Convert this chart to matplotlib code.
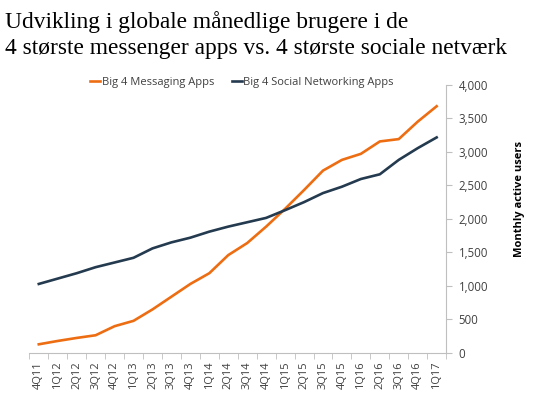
import matplotlib.pyplot as plt
import numpy as np

quarters = ["4Q11", "1Q12", "2Q12", "3Q12", "4Q12", "1Q13", "2Q13", "3Q13", "4Q13",
            "1Q14", "2Q14", "3Q14", "4Q14", "1Q15", "2Q15", "3Q15", "4Q15",
            "1Q16", "2Q16", "3Q16", "4Q16", "1Q17"]
messaging = [130, 180, 225, 265, 400, 480, 650, 840, 1030, 1190, 1460, 1640,
             1885, 2150, 2430, 2720, 2880, 2970, 3155, 3190, 3450, 3680]
social = [1030, 1110, 1190, 1280, 1350, 1420, 1560, 1650, 1720, 1810, 1885, 1950,
          2015, 2130, 2250, 2385, 2480, 2595, 2665, 2880, 3055, 3215]

orange = "#ed6d12"
navy = "#243a4f"
grey = "#bfbfbf"

fig = plt.figure(figsize=(5.33, 3.98), dpi=100)
fig.text(0.01, 0.912, "Udvikling i globale månedlige brugere i de\n4 største messenger apps vs. 4 største sociale netværk",
         family="Liberation Serif", fontsize=16.8, va="center", linespacing=1.3)

ax = fig.add_axes([0.055, 0.113, 0.782, 0.674])
x = np.arange(len(quarters))
ax.plot(x, messaging, color=orange, lw=1.9, label="Big 4 Messaging Apps")
ax.plot(x, social, color=navy, lw=1.9, label="Big 4 Social Networking Apps")

ax.set_xlim(-0.5, len(quarters) - 0.5)
ax.set_ylim(0, 4000)
ax.set_yticks(range(0, 4001, 500))
ax.set_yticklabels([f"{v:,}" for v in range(0, 4001, 500)])
ax.yaxis.tick_right()
ax.yaxis.set_label_position("right")
ax.set_ylabel("Monthly active users", fontsize=8, fontweight="bold")
ax.yaxis.set_label_coords(1.163, 0.575)

ax.set_xticks(x)
ax.set_xticklabels(quarters, rotation=90)
ax.set_xticks(np.arange(-0.5, len(quarters)), minor=True)
ax.tick_params(axis="x", which="major", length=0, pad=6, labelsize=8)
ax.tick_params(axis="x", which="minor", length=4, color=grey)
ax.tick_params(axis="y", length=4, color=grey, labelsize=8.3, pad=5)

for s in ["top", "left"]:
    ax.spines[s].set_visible(False)
for s in ["bottom", "right"]:
    ax.spines[s].set_color(grey)

for lbl in ax.get_xticklabels() + ax.get_yticklabels():
    lbl.set_family("Open Sans")
    lbl.set_color("#404040")
ax.yaxis.label.set_family("Open Sans")

ax.legend(loc="center", bbox_to_anchor=(0.51, 1.008), ncol=2, frameon=False,
          prop={"family": "Open Sans", "size": 8}, handlelength=0.9,
          handletextpad=0.1, columnspacing=1.6, labelcolor="#404040",
          borderpad=0)

fig.savefig("out.png", dpi=100)
